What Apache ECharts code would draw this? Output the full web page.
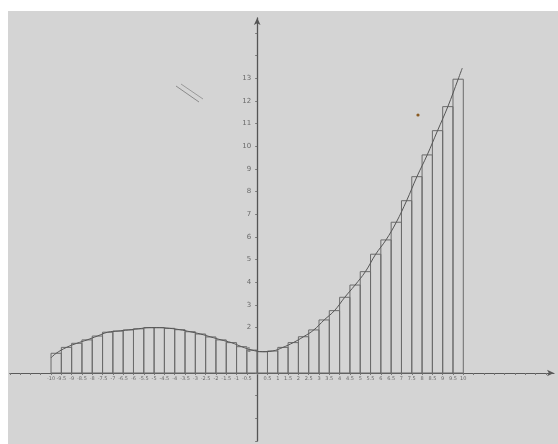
<!DOCTYPE html>
<html>
<head>
<meta charset="utf-8">
<script src="https://cdn.jsdelivr.net/npm/echarts@6/dist/echarts.min.js"></script>
<style>
html,body{margin:0;padding:0;background:#ffffff;}
#wrap{position:relative;width:558px;height:444px;overflow:hidden;}
#bg{position:absolute;left:8px;top:11px;width:550px;height:433px;background:#d4d4d4;}
#chart{position:absolute;left:0;top:0;width:558px;height:444px;}
</style>
</head>
<body>
<div id="wrap"><div id="bg"></div><div id="chart"></div></div>
<script>
// x tick labels = bin edges (step 0.5)
const xTickLabels = ['-10','-9.5','-9','-8.5','-8','-7.5','-7','-6.5','-6','-5.5','-5','-4.5','-4','-3.5','-3','-2.5','-2','-1.5','-1','-0.5','0',
  '0.5','1','1.5','2','2.5','3','3.5','4','4.5','5','5.5','6','6.5','7','7.5','8','8.5','9','9.5','10'];
const yTickLabels = ['1','2','3','4','5','6','7','8','9','10','11','12','13'];
// rectangle heights, left half (x from -10 to 0)
const leftHeights = [0.87,1.13,1.31,1.46,1.63,1.80,1.85,1.90,1.95,2.00,2.00,1.97,1.91,1.82,1.72,1.59,1.46,1.34,1.16,1.01];
// rectangle heights, right half (x from 0 to 10)
const rightHeights = [0.94,0.97,1.13,1.34,1.60,1.90,2.34,2.75,3.34,3.88,4.47,5.24,5.87,6.65,7.60,8.66,9.62,10.69,11.75,12.96];
// ends of the hand-drawn curve
const curveStart = [-10, 0.67];
const curveEnd = [9.95, 13.45];

const edges = xTickLabels.map(Number);
const heights = leftHeights.concat(rightHeights);
const barData = heights.map((h, i) => [edges[i], edges[i + 1], h]);
const curveData = [curveStart].concat(heights.map((h, i) => [(edges[i] + edges[i + 1]) / 2, h])).concat([curveEnd]);
const labelSet = new Set(xTickLabels.filter(s => s !== '0'));

const chart = echarts.init(document.getElementById('chart'), null, {renderer: 'canvas'});
chart.setOption({
  backgroundColor: 'transparent',
  animation: false,
  grid: {left: 9.8, right: 4, top: 18, bottom: 3, containLabel: false},
  xAxis: {
    type: 'value', min: -12, max: 14.4, interval: 0.5,
    position: 'bottom', offset: -68,
    splitLine: {show: false},
    axisLine: {onZero: false, lineStyle: {color: '#5a5a5a', width: 1.2}, symbol: ['none', 'arrow'], symbolSize: [5, 7]},
    axisTick: {show: true, length: 2, lineStyle: {color: '#777'}},
    axisLabel: {
      show: true, fontSize: 5, color: '#6a6a6a', margin: 3, fontFamily: 'DejaVu Sans',
      showMinLabel: true, showMaxLabel: false,
      formatter: v => { const s = String(Math.round(v * 10) / 10); return labelSet.has(s) ? s : ''; }
    }
  },
  yAxis: {
    type: 'value', min: -3, max: 15.66, interval: 1,
    position: 'left', offset: -247.4,
    splitLine: {show: false},
    axisLine: {onZero: false, lineStyle: {color: '#555', width: 1.3}, symbol: ['none', 'arrow'], symbolSize: [5, 7]},
    axisTick: {show: true, length: 2, lineStyle: {color: '#777'}},
    axisLabel: {
      show: true, fontSize: 7, color: '#6a6a6a', margin: 6, fontFamily: 'DejaVu Sans',
      showMaxLabel: false,
      formatter: v => yTickLabels.includes(String(v)) ? String(v) : ''
    }
  },
  series: [
    {
      type: 'custom',
      data: barData,
      encode: {x: [0, 1], y: 2},
      z: 3,
      renderItem: (params, api) => {
        const p0 = api.coord([api.value(0), api.value(2)]);
        const p1 = api.coord([api.value(1), 0]);
        return {
          type: 'rect',
          shape: {x: p0[0], y: p0[1], width: p1[0] - p0[0], height: p1[1] - p0[1]},
          style: {fill: 'none', stroke: '#6b6b6b', lineWidth: 1}
        };
      }
    },
    {
      type: 'line',
      data: curveData,
      smooth: 0.4,
      showSymbol: false,
      z: 4,
      lineStyle: {color: '#555', width: 1}
    }
  ],
  graphic: [
    {type: 'line', shape: {x1: 176, y1: 86, x2: 199, y2: 102}, style: {stroke: '#8a8a8a', lineWidth: 1}},
    {type: 'line', shape: {x1: 181, y1: 84, x2: 203, y2: 99}, style: {stroke: '#9a9a9a', lineWidth: 1}},
    {type: 'circle', shape: {cx: 418, cy: 115, r: 1.6}, style: {fill: '#8a5a20'}}
  ]
});
</script>
</body>
</html>
